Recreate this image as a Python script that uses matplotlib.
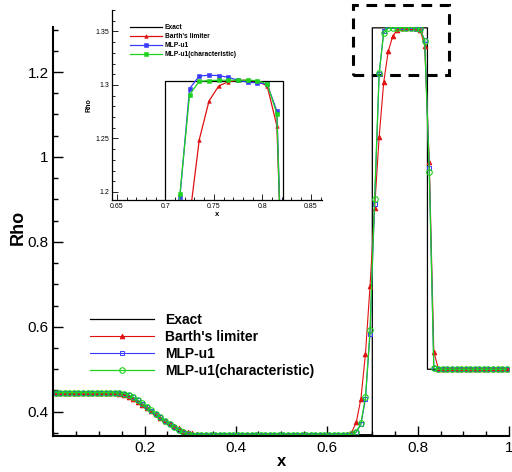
import numpy as np
import matplotlib
matplotlib.use("Agg")
import matplotlib.pyplot as plt
from matplotlib.ticker import MultipleLocator, FuncFormatter
from matplotlib.patches import Rectangle

plt.rcParams['font.family'] = ['Liberation Sans', 'DejaVu Sans']

# cell centres, 100 cells on [0,1]
x_cell = np.linspace(0.005, 0.995, 100)

# exact solution
x_exact = [0.0, 0.158, 0.16, 0.18, 0.20, 0.22, 0.24, 0.26, 0.28, 0.289,
           0.700, 0.700, 0.821, 0.821, 1.0]
rho_exact = [0.445, 0.445, 0.4430, 0.4262, 0.4099, 0.3941, 0.3788, 0.3640, 0.3496, 0.3458,
             0.3458, 1.304, 1.304, 0.5, 0.5]

rho_barth = [
    0.445, 0.445, 0.445, 0.445, 0.445, 0.445, 0.445, 0.445, 0.445, 0.445,
    0.445, 0.4449, 0.4446, 0.4439, 0.4424, 0.4398, 0.4358, 0.4303, 0.4238, 0.4165,
    0.4090, 0.4012, 0.3935, 0.3862, 0.3792, 0.3725, 0.3662, 0.3605, 0.3555, 0.3515,
    0.3487, 0.3470, 0.3462, 0.3459, 0.3457, 0.3456, 0.3456, 0.3456, 0.3456, 0.3456,
    0.3456, 0.3456, 0.3456, 0.3456, 0.3456, 0.3456, 0.3456, 0.3456, 0.3456, 0.3456,
    0.3456, 0.3456, 0.3456, 0.3456, 0.3456, 0.3456, 0.3456, 0.3456, 0.3456, 0.3456,
    0.3456, 0.3456, 0.3456, 0.3458, 0.347, 0.352, 0.376, 0.431, 0.537, 0.696,
    0.879, 1.047, 1.176, 1.249, 1.285, 1.299, 1.303, 1.3044, 1.3044, 1.3037,
    1.299, 1.2616, 0.988, 0.541, 0.501, 0.5, 0.5, 0.5, 0.5, 0.5,
    0.5, 0.5, 0.5, 0.5, 0.5, 0.5, 0.5, 0.5, 0.5, 0.5,
]

rho_mlp = [
    0.445, 0.445, 0.445, 0.445, 0.445, 0.445, 0.445, 0.445, 0.445, 0.445,
    0.445, 0.445, 0.4449, 0.4446, 0.4440, 0.4426, 0.4395, 0.4342, 0.4272, 0.4192,
    0.4110, 0.4027, 0.3945, 0.3865, 0.3787, 0.3711, 0.3638, 0.3568, 0.3507, 0.3467,
    0.3455, 0.3452, 0.3453, 0.3454, 0.3455, 0.3455, 0.3455, 0.3455, 0.3455, 0.3455,
    0.3455, 0.3455, 0.3455, 0.3455, 0.3455, 0.3455, 0.3455, 0.3455, 0.3455, 0.3455,
    0.3455, 0.3455, 0.3455, 0.3455, 0.3455, 0.3455, 0.3455, 0.3455, 0.3455, 0.3455,
    0.3455, 0.3455, 0.3455, 0.3456, 0.3458, 0.3463, 0.352, 0.370, 0.430, 0.584,
    0.890, 1.195, 1.2966, 1.3084, 1.309, 1.3088, 1.307, 1.3044, 1.3025, 1.302,
    1.3006, 1.2756, 0.973, 0.502, 0.5, 0.5, 0.5, 0.5, 0.5, 0.5,
    0.5, 0.5, 0.5, 0.5, 0.5, 0.5, 0.5, 0.5, 0.5, 0.5,
]

rho_mlp_char = [
    0.445, 0.445, 0.445, 0.445, 0.445, 0.445, 0.445, 0.445, 0.445, 0.445,
    0.445, 0.445, 0.4449, 0.4447, 0.4441, 0.4428, 0.4398, 0.4345, 0.4275, 0.4195,
    0.4112, 0.4030, 0.3948, 0.3868, 0.3790, 0.3714, 0.3641, 0.3572, 0.3512, 0.3472,
    0.3459, 0.3456, 0.3455, 0.3455, 0.3455, 0.3455, 0.3455, 0.3455, 0.3455, 0.3455,
    0.3455, 0.3455, 0.3455, 0.3455, 0.3455, 0.3455, 0.3455, 0.3455, 0.3455, 0.3455,
    0.3455, 0.3455, 0.3455, 0.3455, 0.3455, 0.3455, 0.3455, 0.3455, 0.3455, 0.3455,
    0.3455, 0.3455, 0.3455, 0.3456, 0.3458, 0.3465, 0.353, 0.373, 0.435, 0.592,
    0.9005, 1.198, 1.291, 1.3034, 1.304, 1.3044, 1.3044, 1.3044, 1.3044, 1.304,
    1.301, 1.273, 0.965, 0.502, 0.5, 0.5, 0.5, 0.5, 0.5, 0.5,
    0.5, 0.5, 0.5, 0.5, 0.5, 0.5, 0.5, 0.5, 0.5, 0.5,
]

labels = ["Exact", "Barth's limiter", "MLP-u1", "MLP-u1(characteristic)"]
RED = "#e01010"
BLUE = "#3a3aff"
GREEN = "#1ed21e"

fmt = FuncFormatter(lambda v, p: "%g" % round(v, 4))

fig = plt.figure(figsize=(5.12, 4.72), dpi=100)
ax = fig.add_axes([53.4 / 512, 1 - 435.7 / 472, 455.6 / 512, 408.7 / 472])

ax.plot(x_exact, rho_exact, color="black", lw=0.9, label=labels[0])
ax.plot(x_cell, rho_barth, color=RED, lw=0.8, marker="^", ms=3.4,
        mfc=RED, mec=RED, mew=0.6, label=labels[1])
ax.plot(x_cell, rho_mlp, color=BLUE, lw=0.8, marker="s", ms=3.4,
        mfc="none", mec=BLUE, mew=0.7, label=labels[2])
ax.plot(x_cell, rho_mlp_char, color=GREEN, lw=0.9, marker="o", ms=4.0,
        mfc="none", mec=GREEN, mew=0.8, label=labels[3])

ax.set_xlim(0, 1)
ax.set_ylim(0.3435, 1.306)
ax.spines["top"].set_visible(False)
ax.spines["right"].set_visible(False)
ax.spines["left"].set_linewidth(1.5)
ax.spines["bottom"].set_linewidth(1.5)
ax.set_xticks([0.2, 0.4, 0.6, 0.8, 1.0])
ax.set_yticks([0.4, 0.6, 0.8, 1.0, 1.2])
ax.xaxis.set_minor_locator(MultipleLocator(0.05))
ax.yaxis.set_minor_locator(MultipleLocator(0.05))
ax.xaxis.set_major_formatter(fmt)
ax.yaxis.set_major_formatter(fmt)
ax.tick_params(which="both", direction="in", width=1.0)
ax.tick_params(which="major", length=7, labelsize=11, pad=3.5)
ax.tick_params(which="minor", length=3.5)

ax.set_xlabel("x", fontsize=12, fontweight="bold")
ax.set_ylabel("Rho", fontsize=13, fontweight="bold")
ax.xaxis.set_label_coords(0.5, -0.064)
ax.xaxis.label.set_va("center")
ax.yaxis.set_label_coords(-0.077, 0.51)
ax.yaxis.label.set_va("center")

# zoom box
box = Rectangle((0.658, 1.192), 0.21, 0.165, fill=False, ec="black", lw=2.2,
                ls=(0, (3.5, 2.5)), clip_on=False)
ax.add_patch(box)

ax.legend(loc="upper left", bbox_to_anchor=(90 / 512, 1 - 313 / 472),
          bbox_transform=fig.transFigure, frameon=False, borderpad=0,
          borderaxespad=0, handlelength=4.6, handletextpad=0.8,
          labelspacing=0.22, numpoints=1,
          prop={"weight": "bold", "size": 10})

# inset
ins = fig.add_axes([112 / 512, 1 - 200 / 472, 210 / 512, 190 / 472])
ins.plot(x_exact, rho_exact, color="black", lw=0.9, label=labels[0])
ins.plot(x_cell, rho_barth, color=RED, lw=0.9, marker="^", ms=2.6,
         mfc=RED, mec=RED, mew=0.4, label=labels[1])
ins.plot(x_cell, rho_mlp, color=BLUE, lw=0.9, marker="s", ms=2.2,
         mfc=BLUE, mec=BLUE, mew=0.4, label=labels[2])
ins.plot(x_cell, rho_mlp_char, color=GREEN, lw=0.9, marker="s", ms=2.2,
         mfc=GREEN, mec=GREEN, mew=0.4, label=labels[3])
ins.set_xlim(0.645, 0.8615)
ins.set_ylim(1.1925, 1.37)
ins.patch.set_alpha(0)
ins.spines["top"].set_visible(False)
ins.spines["right"].set_visible(False)
ins.spines["left"].set_linewidth(0.9)
ins.spines["bottom"].set_linewidth(0.9)
ins.set_xticks([0.65, 0.7, 0.75, 0.8, 0.85])
ins.set_yticks([1.2, 1.25, 1.3, 1.35])
ins.xaxis.set_minor_locator(MultipleLocator(0.01))
ins.yaxis.set_minor_locator(MultipleLocator(0.01))
ins.xaxis.set_major_formatter(fmt)
ins.yaxis.set_major_formatter(fmt)
ins.tick_params(which="both", direction="in", width=0.6)
ins.tick_params(which="major", length=4, labelsize=5, pad=2)
ins.tick_params(which="minor", length=2)
ins.set_xlabel("x", fontsize=5.5, fontweight="bold", labelpad=1)
ins.set_ylabel("Rho", fontsize=5, fontweight="bold", labelpad=2)
ins.legend(loc="upper left", bbox_to_anchor=(130 / 512, 1 - 24 / 472),
           bbox_transform=fig.transFigure, frameon=False, borderpad=0,
           borderaxespad=0, handlelength=4.8, handletextpad=0.4,
           labelspacing=0.3, numpoints=1,
           prop={"weight": "bold", "size": 4.8})

fig.savefig("out.png", dpi=100)
